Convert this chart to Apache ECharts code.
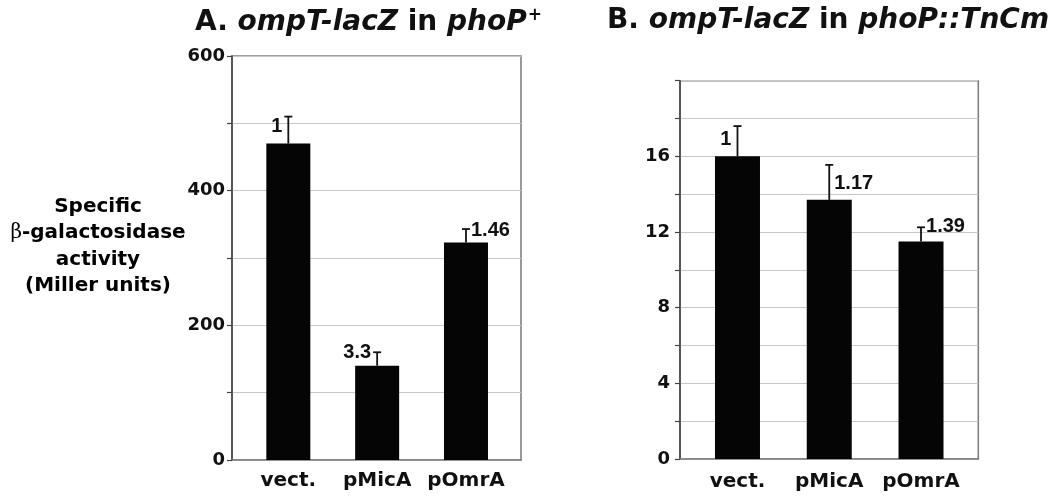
<!DOCTYPE html>
<html><head><meta charset="utf-8">
<script src="https://cdn.jsdelivr.net/npm/echarts@6/dist/echarts.min.js"></script>
<style>html,body{margin:0;padding:0;background:#fff}#c{width:1050px;height:496px}</style>
</head><body><div id="c"></div>
<script>
// ---- data ----
const categories = ['vect.', 'pMicA', 'pOmrA'];
const valuesA = [470, 140, 323];
const errTopA = [510, 160, 343];
const foldA = ['1', '3.3', '1.46'];
const valuesB = [16.0, 13.7, 11.5];
const errTopB = [17.6, 15.55, 12.25];
const foldB = ['1', '1.17', '1.39'];
const ticksA = [0, 200, 400, 600];
const ticksB = [0, 4, 8, 12, 16];

// label placement relative to error-bar top (styling)
const layoutA = [{side: 'left', dy: 10}, {side: 'left', dy: 0}, {side: 'right', dy: 1}];
const layoutB = [{side: 'left', dy: 13}, {side: 'right', dy: 19}, {side: 'right', dy: -1}];

const FONT = '"DejaVu Sans", sans-serif';
const DARK = '#111';

function errSeries(xi, yi, vals, tops, folds, layout) {
  return {
    type: 'custom', xAxisIndex: xi, yAxisIndex: yi, z: 10, silent: true,
    data: vals.map((v, i) => [i, v, tops[i]]),
    renderItem: (params, api) => {
      const i = api.value(0);
      const p0 = api.coord([i, api.value(1)]);
      const p1 = api.coord([i, api.value(2)]);
      const L = layout[i];
      const cap = 4;
      const left = L.side === 'left';
      return {type: 'group', children: [
        {type: 'line', shape: {x1: p0[0], y1: p0[1], x2: p1[0], y2: p1[1]}, style: {stroke: DARK, lineWidth: 1.8}},
        {type: 'line', shape: {x1: p1[0] - cap, y1: p1[1], x2: p1[0] + cap, y2: p1[1]}, style: {stroke: DARK, lineWidth: 1.8}},
        {type: 'text', x: left ? p1[0] - 6 : p1[0] + 5, y: p1[1] + L.dy,
          style: {text: folds[i], textAlign: left ? 'right' : 'left', textVerticalAlign: 'middle',
            font: 'bold 20px "Liberation Sans", Arial, sans-serif', fill: DARK}}
      ]};
    }
  };
}

const titleRich = {
  n: {fontFamily: FONT, fontWeight: 'bold', fontSize: 28, color: DARK},
  i: {fontFamily: FONT, fontWeight: 'bold', fontStyle: 'italic', fontSize: 28, color: DARK},
  s: {fontFamily: FONT, fontWeight: 'bold', fontSize: 17, color: DARK, verticalAlign: 'top', padding: [0, 0, 14, 1]}
};

const frameGrid = {show: true, borderColor: '#808080', borderWidth: 1.6, containLabel: false};

const option = {
  animation: false,
  backgroundColor: '#fff',
  title: [
    {left: 190, top: 2, text: '{n|A. }{i|ompT-lacZ}{n| in }{i|phoP}{s|+}', textStyle: {rich: titleRich}},
    {left: 602, top: 2, text: '{n|B. }{i|ompT-lacZ}{n| in }{i|phoP::TnCm}', textStyle: {rich: titleRich}}
  ],
  graphic: [{
    type: 'text', x: 98, y: 246.5,
    style: {
      text: '{b|Specific}\n{g|β}{b|-galactosidase}\n{b|activity}\n{b|(Miller units)}',
      textAlign: 'center', textVerticalAlign: 'middle',
      rich: {
        b: {fontFamily: FONT, fontWeight: 'bold', fontSize: 20, color: DARK, lineHeight: 26.5},
        g: {fontFamily: '"DejaVu Serif", serif', fontWeight: 'normal', fontSize: 20, color: DARK, lineHeight: 26.5}
      }
    }
  }],
  grid: [
    Object.assign({left: 232, top: 56, width: 289, height: 404}, frameGrid),
    {left: 243.9, top: 56, width: 266.5, height: 404},
    Object.assign({left: 680, top: 80.7, width: 298.3, height: 378.3}, frameGrid),
    {left: 691.6, top: 80.7, width: 275.3, height: 378.3}
  ],
  xAxis: [
    {gridIndex: 0, type: 'value', min: 0, max: 1, axisLine: {show: true, lineStyle: {color: '#808080', width: 1.6}},
      axisTick: {show: false}, axisLabel: {show: false}, splitLine: {show: false}},
    {gridIndex: 1, type: 'category', data: categories, axisLine: {show: false}, axisTick: {show: false},
      axisLabel: {interval: 0, hideOverlap: false, fontFamily: FONT, fontWeight: 'bold', fontSize: 20, color: DARK, margin: 11}},
    {gridIndex: 2, type: 'value', min: 0, max: 1, axisLine: {show: true, lineStyle: {color: '#808080', width: 1.6}},
      axisTick: {show: false}, axisLabel: {show: false}, splitLine: {show: false}},
    {gridIndex: 3, type: 'category', data: categories, axisLine: {show: false}, axisTick: {show: false},
      axisLabel: {interval: 0, hideOverlap: false, fontFamily: FONT, fontWeight: 'bold', fontSize: 20, color: DARK, margin: 13}}
  ],
  yAxis: [
    {gridIndex: 0, type: 'value', min: 0, max: 600, interval: 100,
      axisLine: {show: true, lineStyle: {color: '#444', width: 1.6}},
      axisTick: {show: true, length: 5, lineStyle: {color: '#444', width: 1.2}},
      axisLabel: {formatter: v => ticksA.includes(v) ? String(v) : '', fontFamily: FONT, fontWeight: 'bold', fontSize: 18, color: DARK, margin: 7},
      splitLine: {show: true, lineStyle: {color: '#c8c8c8', width: 1.2}}},
    {gridIndex: 1, type: 'value', min: 0, max: 600, show: false, splitLine: {show: false}},
    {gridIndex: 2, type: 'value', min: 0, max: 20, interval: 2,
      axisLine: {show: true, lineStyle: {color: '#444', width: 1.6}},
      axisTick: {show: true, length: 5, lineStyle: {color: '#444', width: 1.2}},
      axisLabel: {formatter: v => ticksB.includes(v) ? String(v) : '', fontFamily: FONT, fontWeight: 'bold', fontSize: 18, color: DARK, margin: 10},
      splitLine: {show: true, lineStyle: {color: '#c8c8c8', width: 1.2}}},
    {gridIndex: 3, type: 'value', min: 0, max: 20, show: false, splitLine: {show: false}}
  ],
  series: [
    {type: 'bar', xAxisIndex: 1, yAxisIndex: 1, data: valuesA, barWidth: 44, itemStyle: {color: '#050505'}, silent: true},
    errSeries(1, 1, valuesA, errTopA, foldA, layoutA),
    {type: 'bar', xAxisIndex: 3, yAxisIndex: 3, data: valuesB, barWidth: 45, itemStyle: {color: '#050505'}, silent: true},
    errSeries(3, 3, valuesB, errTopB, foldB, layoutB)
  ]
};

const chart = echarts.init(document.getElementById('c'), null, {renderer: 'canvas'});
chart.setOption(option);
</script>
</body></html>
